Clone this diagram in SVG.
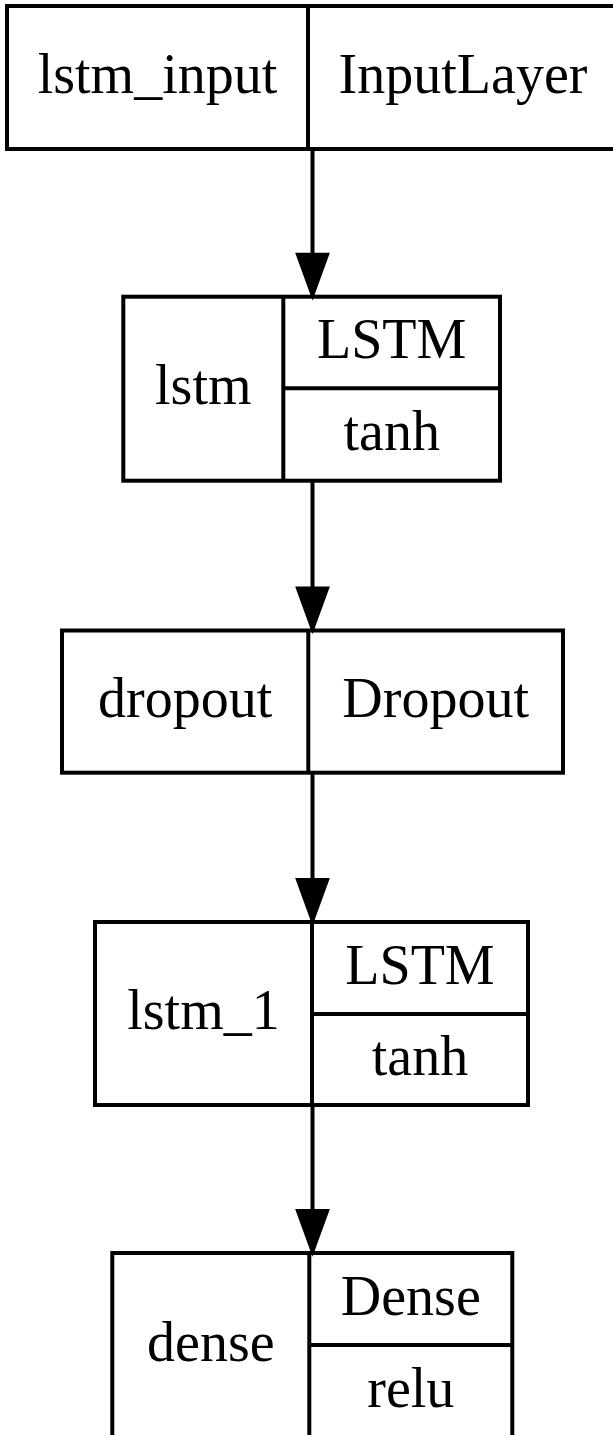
<svg xmlns="http://www.w3.org/2000/svg" width="613" height="1435" viewBox="0 0 613 1435">
<style>
.box{fill:none;stroke:#000;stroke-width:4}
.sep{stroke:#000;stroke-width:4;fill:none}
.t{font-family:"Liberation Serif","Times New Roman",serif;font-size:56px;fill:#000;text-anchor:middle}
.edge{stroke:#000;stroke-width:4;fill:none}
</style>
<defs>
<marker id="ah" markerUnits="userSpaceOnUse" orient="auto" viewBox="-4 -20 52 40" refX="40" refY="0" markerWidth="52" markerHeight="40" overflow="visible">
<path d="M0,-14.5 L40,0 L0,14.5 Z" fill="#000" stroke="#000" stroke-width="4"/>
</marker>
</defs>
<rect width="613" height="1435" fill="#fff"/>
<g id="connectors">
<line class="edge" x1="312.5" y1="149" x2="312.5" y2="294.7" marker-end="url(#ah)"/>
<line class="edge" x1="312.5" y1="480.7" x2="312.5" y2="628.5" marker-end="url(#ah)"/>
<line class="edge" x1="312.5" y1="772.7" x2="312.5" y2="920" marker-end="url(#ah)"/>
<line class="edge" x1="312.5" y1="1105" x2="312.5" y2="1251" marker-end="url(#ah)"/>
</g>
<g id="lstm_input">
<rect class="box" x="7" y="6" width="611" height="143"/>
<line class="sep" x1="308" y1="6" x2="308" y2="149"/>
<text class="t" x="157.5" y="93">lstm_input</text>
<text class="t" x="463" y="93">InputLayer</text>
</g>
<g id="lstm">
<rect class="box" x="123.3" y="296.7" width="376.7" height="184"/>
<line class="sep" x1="283.3" y1="296.7" x2="283.3" y2="480.7"/>
<line class="sep" x1="283.3" y1="388.3" x2="500" y2="388.3"/>
<text class="t" x="203.3" y="404">lstm</text>
<text class="t" x="391.7" y="358">LSTM</text>
<text class="t" x="391.7" y="450">tanh</text>
</g>
<g id="dropout">
<rect class="box" x="62" y="630.5" width="501" height="142.2"/>
<line class="sep" x1="308.3" y1="630.5" x2="308.3" y2="772.7"/>
<text class="t" x="185.2" y="717">dropout</text>
<text class="t" x="435.7" y="717">Dropout</text>
</g>
<g id="lstm_1">
<rect class="box" x="95" y="922" width="433" height="183"/>
<line class="sep" x1="312" y1="922" x2="312" y2="1105"/>
<line class="sep" x1="312" y1="1014" x2="528" y2="1014"/>
<text class="t" x="203.5" y="1029">lstm_1</text>
<text class="t" x="420" y="983.5">LSTM</text>
<text class="t" x="420" y="1075">tanh</text>
</g>
<g id="dense">
<rect class="box" x="112.3" y="1253" width="400" height="184"/>
<line class="sep" x1="309.3" y1="1253" x2="309.3" y2="1437"/>
<line class="sep" x1="309.3" y1="1345" x2="512.3" y2="1345"/>
<text class="t" x="210.8" y="1360.5">dense</text>
<text class="t" x="410.8" y="1314.5">Dense</text>
<text class="t" x="410.8" y="1406.5">relu</text>
</g>
</svg>
